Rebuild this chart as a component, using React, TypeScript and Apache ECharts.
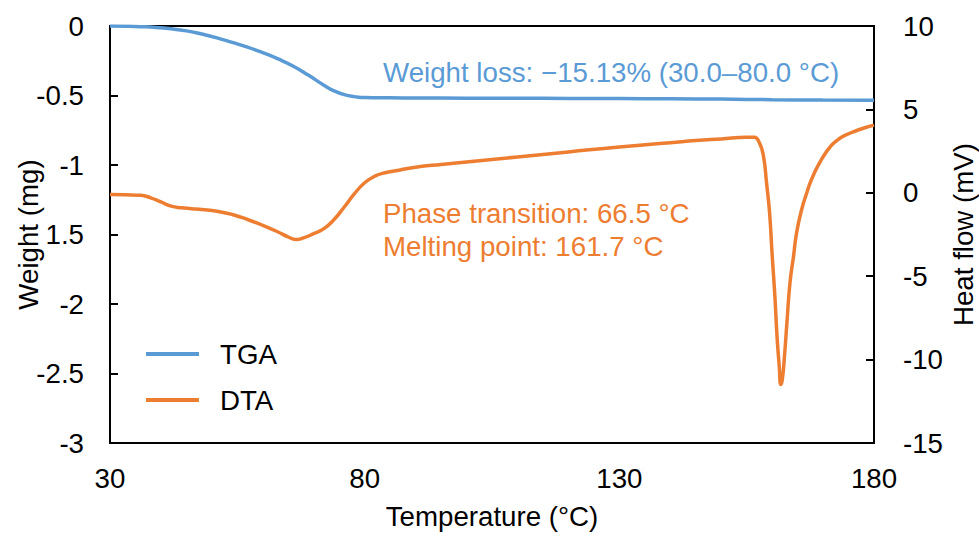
import React, { useEffect, useRef } from "react";
import * as echarts from "echarts";

// TGA: temperature (°C) and weight change (mg)
const tgaTemp = [30, 33, 36, 39, 42, 45, 48, 51, 54, 57, 60, 63, 66, 69, 72, 74, 76, 78, 80, 85, 90, 100, 110, 120, 130, 140, 150, 160, 170, 180];
const tgaWeight = [0, -0.002, -0.005, -0.01, -0.02, -0.035, -0.058, -0.085, -0.118, -0.152, -0.192, -0.237, -0.289, -0.355, -0.426, -0.467, -0.494, -0.508, -0.515, -0.517, -0.518, -0.519, -0.52, -0.521, -0.522, -0.524, -0.526, -0.53, -0.533, -0.535];

// DTA: temperature (°C) and heat flow (mV)
const dtaTemp = [30, 33, 36, 38, 40, 42, 44, 46, 48, 51, 54, 57, 60, 63, 65, 66.5, 68, 70, 72, 74, 76, 78, 80, 82, 84, 87, 90, 95, 100, 110, 120, 130, 140, 145, 150, 155, 156.5, 157.5, 158.3, 158.9, 159.5, 160, 160.5, 161, 161.4, 161.7, 162, 162.4, 162.9, 163.5, 164.2, 164.8, 165.8, 166.8, 167.5, 168.3, 169, 170, 171, 172, 173, 174, 175.5, 177, 178.5, 180];
const dtaHeat = [-0.1, -0.12, -0.15, -0.3, -0.55, -0.8, -0.9, -0.95, -1.0, -1.1, -1.3, -1.6, -1.95, -2.35, -2.65, -2.8, -2.7, -2.45, -2.15, -1.6, -0.85, -0.05, 0.6, 1.0, 1.2, 1.37, 1.53, 1.7, 1.85, 2.15, 2.45, 2.75, 3.0, 3.13, 3.23, 3.33, 3.33, 3.0, 2.2, 0.6, -1.2, -3.7, -6.0, -8.8, -10.4, -11.5, -11.2, -9.9, -7.8, -5.4, -3.8, -2.4, -1.0, 0.0, 0.62, 1.2, 1.62, 2.15, 2.6, 2.95, 3.2, 3.4, 3.6, 3.78, 3.93, 4.06];

const seriesNames = ["TGA", "DTA"];
const annotations = [
  "Weight loss: \u221215.13% (30.0\u201380.0 \u00B0C)",
  "Phase transition: 66.5 \u00B0C",
  "Melting point: 161.7 \u00B0C",
];

const BLUE = "#5B9BD5";
const ORANGE = "#ED7D31";
const FONT = '"Liberation Sans", Arial, sans-serif';
const FS = 27.7;

export default function App() {
  const ref = useRef<HTMLDivElement>(null);
  useEffect(() => {
    const chart = echarts.init(ref.current!, null, { renderer: "svg" });
    const axisLine = { show: true, lineStyle: { color: "#000", width: 2 } };
    const yTick = { show: true, inside: true, length: 8, lineStyle: { color: "#000", width: 2 } };
    const nameTextStyle = { color: "#000", fontSize: FS, fontFamily: FONT };
    chart.setOption({
      animation: false,
      backgroundColor: "#fff",
      textStyle: { fontFamily: FONT },
      grid: {
        left: 110,
        right: 105,
        top: 26,
        bottom: 93,
        containLabel: false,
        outerBoundsMode: "none",
        show: true,
        borderColor: "#000",
        borderWidth: 2,
        backgroundColor: "transparent",
      },
      legend: {
        data: seriesNames,
        orient: "vertical",
        left: 146,
        top: 340,
        padding: 0,
        icon: "rect",
        itemWidth: 53,
        itemHeight: 4,
        itemGap: 18,
        textStyle: { color: "#000", fontSize: FS, fontFamily: FONT, padding: [0, 0, 0, 16] },
      },
      xAxis: {
        type: "value",
        min: 30,
        max: 180,
        interval: 50,
        name: "Temperature (\u00B0C)",
        nameLocation: "middle",
        nameGap: 59,
        nameTextStyle,
        axisLine,
        axisTick: { show: false },
        splitLine: { show: false },
        axisLabel: { color: "#000", fontSize: FS, fontFamily: FONT, margin: 21 },
      },
      yAxis: [
        {
          type: "value",
          min: -3,
          max: 0,
          interval: 0.5,
          name: "Weight (mg)",
          nameLocation: "middle",
          nameRotate: 90,
          nameGap: 68,
          nameMoveOverlap: false,
          nameTextStyle,
          axisLine,
          axisTick: yTick,
          splitLine: { show: false },
          axisLabel: {
            color: "#000",
            fontSize: FS,
            fontFamily: FONT,
            margin: 26,
            formatter: (v: number) => (v === -1.5 ? "1.5" : String(v)),
          },
        },
        {
          type: "value",
          position: "right",
          min: -15,
          max: 10,
          interval: 5,
          name: "Heat flow (mV)",
          nameLocation: "middle",
          nameRotate: 90,
          nameGap: 75,
          nameMoveOverlap: false,
          nameTextStyle,
          axisLine,
          axisTick: yTick,
          splitLine: { show: false },
          axisLabel: { color: "#000", fontSize: FS, fontFamily: FONT, margin: 29 },
        },
      ],
      series: [
        {
          name: seriesNames[0],
          type: "line",
          yAxisIndex: 0,
          data: tgaTemp.map((t, i) => [t, tgaWeight[i]]),
          showSymbol: false,
          symbol: "none",
          smooth: 0.5,
          lineStyle: { color: BLUE, width: 3.5 },
          itemStyle: { color: BLUE },
        },
        {
          name: seriesNames[1],
          type: "line",
          yAxisIndex: 1,
          data: dtaTemp.map((t, i) => [t, dtaHeat[i]]),
          showSymbol: false,
          symbol: "none",
          smooth: 0.5,
          lineStyle: { color: ORANGE, width: 3.5 },
          itemStyle: { color: ORANGE },
        },
      ],
      graphic: [
        { type: "text", x: 383, y: 72, style: { text: annotations[0], fill: BLUE, fontSize: FS, fontFamily: FONT, verticalAlign: "middle" } },
        { type: "text", x: 383, y: 213.5, style: { text: annotations[1], fill: ORANGE, fontSize: FS, fontFamily: FONT, verticalAlign: "middle" } },
        { type: "text", x: 383, y: 246, style: { text: annotations[2], fill: ORANGE, fontSize: FS, fontFamily: FONT, verticalAlign: "middle" } },
      ],
    });
    return () => chart.dispose();
  }, []);
  return <div ref={ref} style={{ position: "fixed", left: 0, top: 0, width: 979, height: 536, background: "#fff" }} />;
}
